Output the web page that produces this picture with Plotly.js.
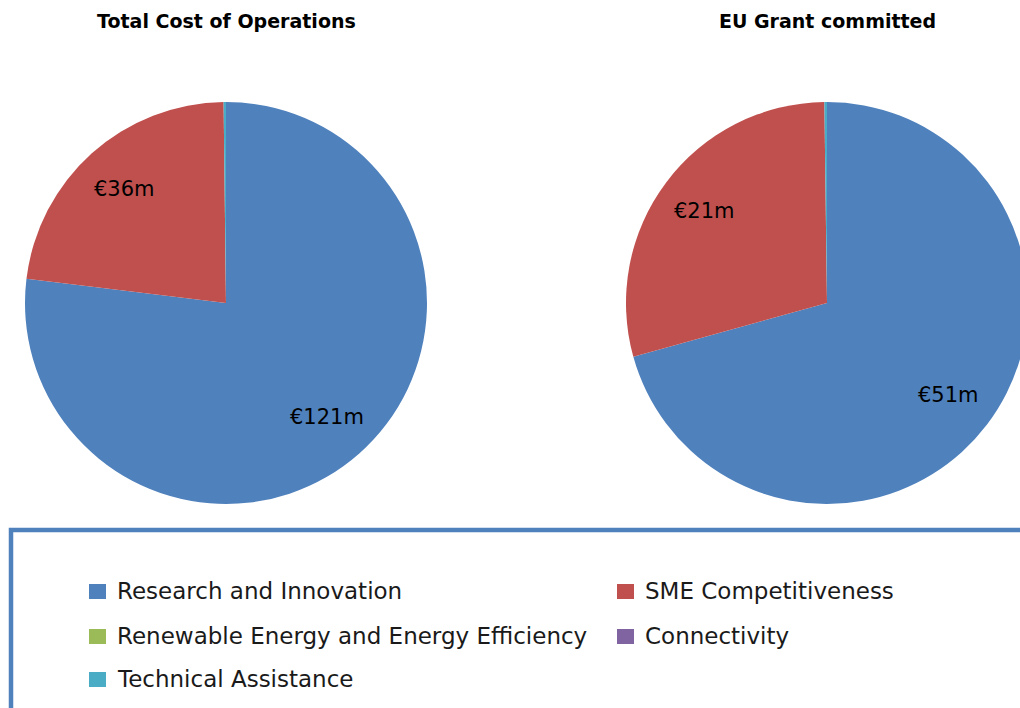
<!DOCTYPE html>
<html>
<head>
<meta charset="utf-8">
<script src="https://cdn.plot.ly/plotly-3.0.1.min.js"></script>
<style>
html,body{margin:0;padding:0;overflow:hidden;background:#fff;width:1020px;height:708px;}
#chart{width:1060px;height:740px;}
</style>
</head>
<body>
<div id="chart"></div>
<script>
// ---- data ----
const categories = ["Research and Innovation", "SME Competitiveness", "Renewable Energy and Energy Efficiency", "Connectivity", "Technical Assistance"];
const totalCost = [121, 36, 0, 0, 0.3];
const euGrant = [51, 21, 0, 0, 0.15];
const colors = ["#4F81BD", "#C0504D", "#9BBB59", "#8064A2", "#4BACC6"];
const titles = ["Total Cost of Operations", "EU Grant committed"];

const W = 1060, H = 740;
const px = x => x / W;
const py = y => 1 - y / H;

const pies = [
  {vals: totalCost, cx: 226, cy: 303, r: 201},
  {vals: euGrant, cx: 827, cy: 303, r: 201}
];

function pieTrace(p) {
  return {
    type: "pie",
    labels: categories,
    values: p.vals,
    textinfo: "none",
    marker: {colors: colors, line: {width: 0}},
    sort: false,
    direction: "clockwise",
    rotation: 0,
    showlegend: false,
    hoverinfo: "label+value",
    domain: {x: [px(p.cx - p.r), px(p.cx + p.r)], y: [py(p.cy + p.r), py(p.cy - p.r)]}
  };
}

const data = pies.map(pieTrace);

const annotations = [];
titles.forEach((t, i) => {
  annotations.push({text: "<b>" + t + "</b>", x: px(pies[i].cx), y: py(21), xref: "paper", yref: "paper",
    xanchor: "center", yanchor: "middle", showarrow: false, font: {family: "DejaVu Sans", size: 19, color: "#000"}});
});

// data labels placed on each slice's bisector
pies.forEach(p => {
  const total = p.vals.reduce((a, b) => a + b, 0);
  let cum = 0;
  p.vals.forEach(v => {
    const mid = (cum + v / 2) / total * 2 * Math.PI;
    cum += v;
    if (v < 1) return;
    const rr = 0.76 * p.r;
    const x = p.cx + rr * Math.sin(mid);
    const y = p.cy - rr * Math.cos(mid);
    annotations.push({text: "\u20AC" + v + "m", x: px(x), y: py(y), xref: "paper", yref: "paper",
      xanchor: "center", yanchor: "middle", showarrow: false,
      font: {family: "DejaVu Sans", size: 21, color: "#000"}});
  });
});

const shapes = [
  {type: "rect", xref: "paper", yref: "paper", x0: px(11), x1: px(1100), y0: py(530), y1: py(800), line: {color: "#4F81BD", width: 4.5}, fillcolor: "rgba(0,0,0,0)"}
];

// legend (two columns, row-major)
const colMarkerX = [89, 617];
const colTextX = [115, 643];
const rowY = [591, 636, 679];
categories.forEach((c, i) => {
  const col = i % 2, row = Math.floor(i / 2);
  const cy = rowY[row];
  shapes.push({type: "rect", xref: "paper", yref: "paper",
    x0: px(colMarkerX[col]), x1: px(colMarkerX[col] + 17), y0: py(cy - 7), y1: py(cy + 8),
    fillcolor: colors[i], line: {width: 0}});
  annotations.push({text: c, x: px(colTextX[col]), y: py(cy), xref: "paper", yref: "paper",
    xanchor: "left", yanchor: "middle", showarrow: false,
    font: {family: "DejaVu Sans", size: 23, color: "#1a1a1a"}});
});

const layout = {
  width: W, height: H,
  margin: {l: 0, r: 0, t: 0, b: 0},
  paper_bgcolor: "#fff",
  showlegend: false,
  annotations: annotations,
  shapes: shapes
};

Plotly.newPlot("chart", data, layout, {displayModeBar: false, staticPlot: true});
</script>
</body>
</html>
